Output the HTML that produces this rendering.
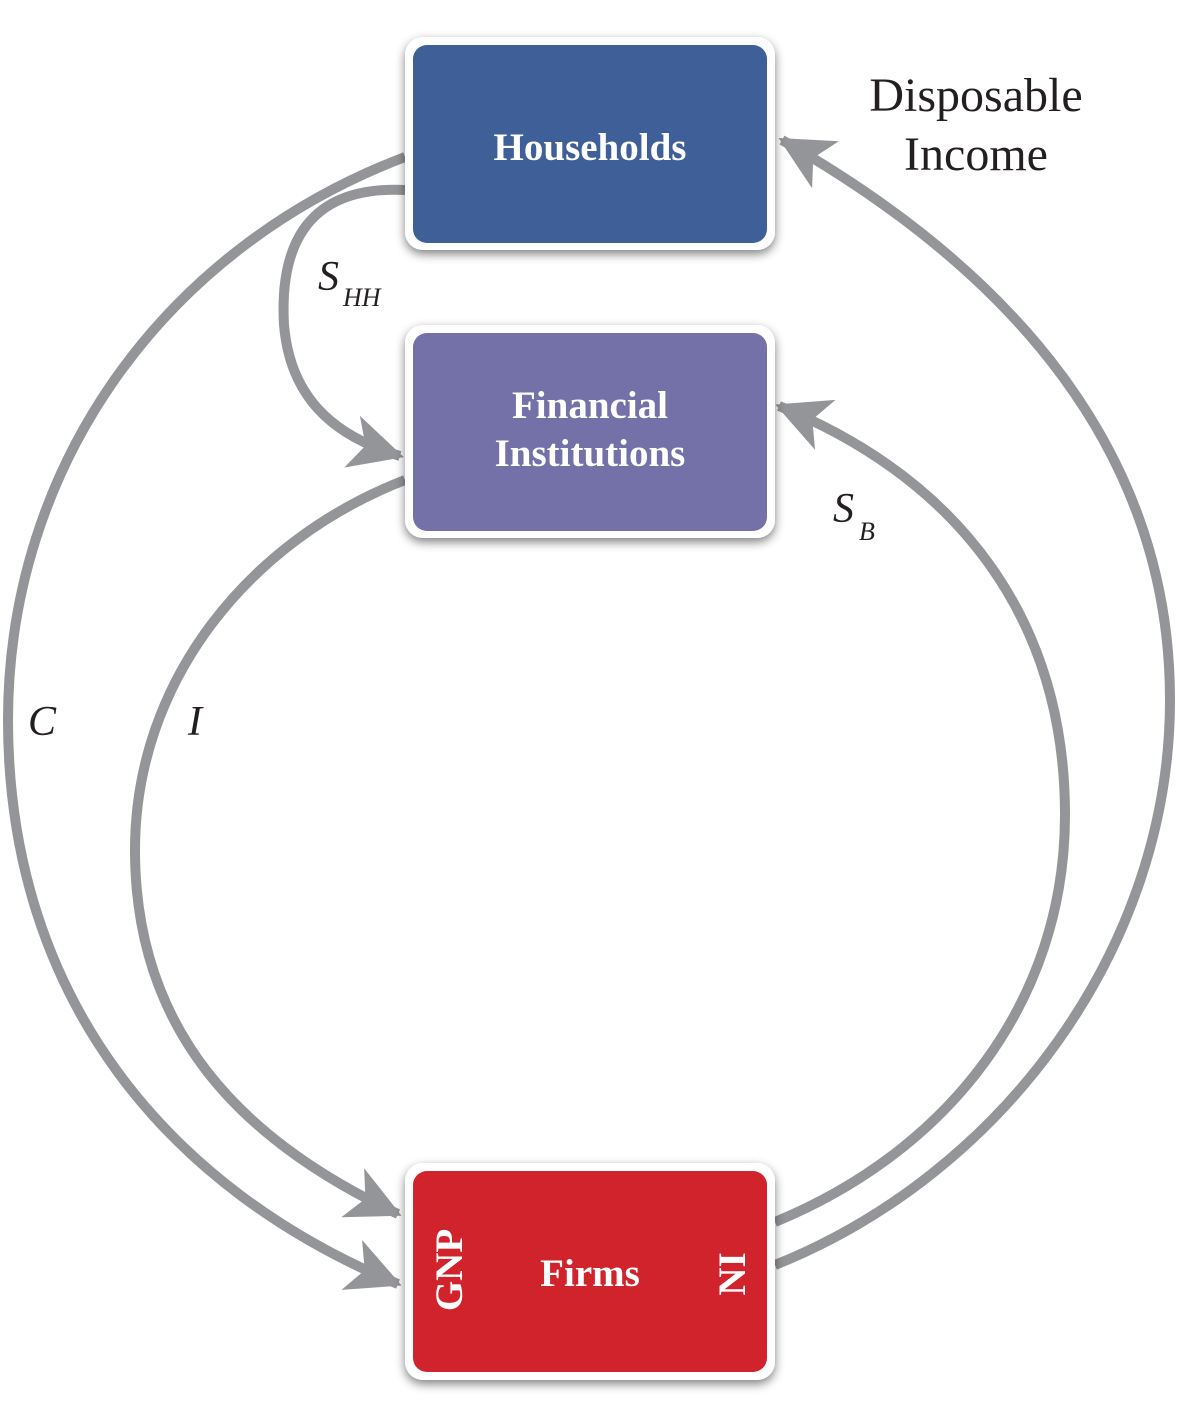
<!DOCTYPE html>
<html><head><meta charset="utf-8"><style>
body{margin:0;background:#fff;}
svg{display:block}
.b{font-family:"Liberation Serif",serif;font-weight:bold;fill:#fff;font-size:39px;text-anchor:middle}
.l{font-family:"Liberation Serif",serif;fill:#231f20;}
</style></head><body>
<svg width="1178" height="1417" viewBox="0 0 1178 1417" xmlns="http://www.w3.org/2000/svg">
<defs>
<marker id="a" markerUnits="userSpaceOnUse" markerWidth="70" markerHeight="70" refX="50" refY="27" orient="auto">
<path d="M0,0 L54,27 L0,54 L14,27 z" fill="#939598"/>
</marker>
<filter id="sh" x="-20%" y="-20%" width="140%" height="140%"><feGaussianBlur in="SourceAlpha" stdDeviation="5"/><feOffset dy="4"/><feComponentTransfer><feFuncA type="linear" slope="0.5"/></feComponentTransfer><feMerge><feMergeNode/><feMergeNode in="SourceGraphic"/></feMerge></filter>
</defs>
<g fill="none" stroke="#939598" stroke-width="10">
<path d="M405,157 C160,250 8,470 8,720 C8,1000 170,1190 398,1284" marker-end="url(#a)"/>
<path d="M405,480 C250,540 135,680 135,850 C135,1030 240,1140 398,1214" marker-end="url(#a)"/>
<path d="M405,190 C300,185 280,255 284,325 C290,395 330,435 400,456" marker-end="url(#a)"/>
<path d="M775,1222 C950,1150 1065,1000 1065,815 C1065,620 960,480 779,406" marker-end="url(#a)"/>
<path d="M775,1265 C1000,1175 1170,950 1170,700 C1170,450 1010,270 782,140" marker-end="url(#a)"/>
</g>
<g filter="url(#sh)">
<rect x="405" y="37" width="370" height="213" rx="18" fill="#fff"/>
<rect x="405" y="325" width="370" height="213" rx="18" fill="#fff"/>
<rect x="405" y="1163" width="370" height="217" rx="18" fill="#fff"/>
</g>
<rect x="413" y="45" width="354" height="198" rx="14" fill="#3e5f97"/>
<rect x="413" y="333" width="354" height="198" rx="14" fill="#7371a8"/>
<rect x="413" y="1171" width="354" height="201" rx="14" fill="#d1232b"/>
<text class="b" x="590" y="160">Households</text>
<text class="b" x="590" y="418">Financial</text>
<text class="b" x="590" y="466">Institutions</text>
<text class="b" x="590" y="1286">Firms</text>
<text class="b" font-size="44" transform="translate(462,1270) rotate(-90)">GNP</text>
<text class="b" font-size="44" transform="translate(745,1274) rotate(-90)">NI</text>
<text class="l" x="976" y="111" font-size="48" text-anchor="middle">Disposable</text>
<text class="l" x="976" y="170" font-size="48" text-anchor="middle">Income</text>
<text class="l" x="318" y="290" font-size="42" font-style="italic">S</text>
<text class="l" x="343" y="306" font-size="26" font-style="italic">HH</text>
<text class="l" x="833" y="522" font-size="42" font-style="italic">S</text>
<text class="l" x="859" y="540" font-size="26" font-style="italic">B</text>
<text class="l" x="28" y="735" font-size="42" font-style="italic">C</text>
<text class="l" x="188" y="735" font-size="42" font-style="italic">I</text>
</svg>
</body></html>
